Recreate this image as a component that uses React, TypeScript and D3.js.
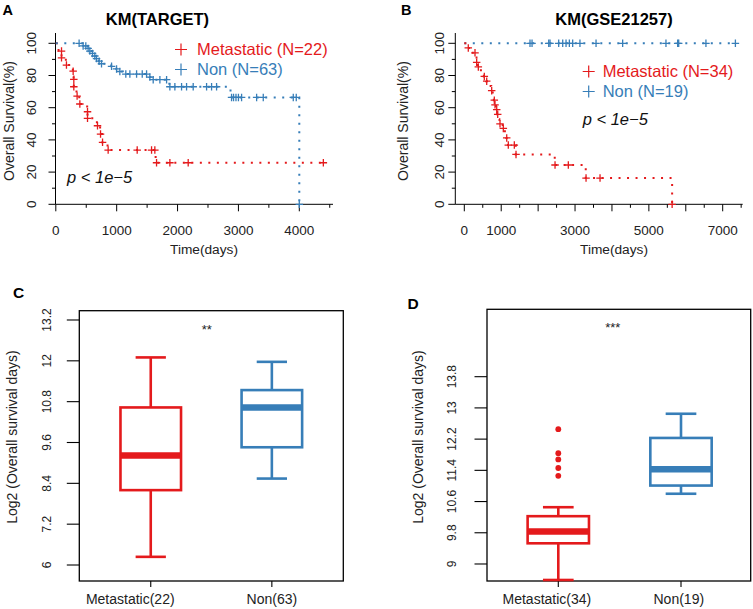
import React from "react";
import * as d3 from "d3";

const RED = "#E41A1C";
const BLUE = "#377EB8";
const FONT = "'Liberation Sans', Arial, Helvetica, sans-serif";

// ---------- Panel A: KM(TARGET) ----------
const kmA_metStepT = [0, 45, 94, 165, 280, 292, 296, 340, 385, 515, 521, 675, 728, 762, 850, 1640, 4395];
const kmA_metStepS = [100, 95.2, 91.0, 86.5, 82.7, 77.6, 73.0, 67.2, 62.3, 57.5, 53.4, 48.8, 43.6, 38.5, 33.7, 25.8, 25.8];
const kmA_metMarkT = [94, 94, 175, 285, 296, 296, 350, 395, 521, 521, 685, 735, 768, 860, 1337, 1573, 1627, 1655, 1874, 2175, 4395];
const kmA_metMarkS = [95.2, 91.0, 86.5, 82.7, 77.6, 73.0, 67.2, 62.3, 57.5, 53.4, 48.8, 43.6, 38.5, 33.7, 33.7, 33.7, 33.7, 25.8, 25.8, 25.8, 25.8];

const kmA_nonStepT = [0, 440, 525, 555, 600, 638, 665, 708, 748, 910, 995, 1048, 1100, 1540, 1595, 1865, 2870, 4000];
const kmA_nonStepS = [100, 98.4, 96.8, 95.2, 93.7, 92.1, 90.5, 88.9, 87.3, 85.7, 84.1, 82.5, 80.9, 79.0, 77.4, 73.0, 66.4, 0];
const kmA_nonMarkT = [383, 449, 493, 531, 559, 603, 641, 669, 712, 751, 916, 998, 1052, 1150, 1217, 1327, 1420, 1491, 1545, 1600, 1710, 1820, 1874, 1956, 2066, 2148, 2257, 2477, 2559, 2641, 2887, 2920, 2960, 3000, 3052, 3299, 3408, 3901, 3950, 4000];
const kmA_nonMarkS = [100, 98.4, 98.4, 96.8, 95.2, 93.7, 92.1, 90.5, 88.9, 87.3, 85.7, 84.1, 82.5, 80.9, 80.9, 80.9, 80.9, 80.9, 79.0, 77.4, 77.4, 77.4, 73.0, 73.0, 73.0, 73.0, 73.0, 73.0, 73.0, 73.0, 66.4, 66.4, 66.4, 66.4, 66.4, 66.4, 66.4, 66.4, 66.4, 0];

const kmA_xMajor = [0, 1000, 2000, 3000, 4000];
const kmA_xMinor = [500, 1500, 2500, 3500, 4500];
const kmA_xLabels = [0, 1000, 2000, 3000, 4000];

// ---------- Panel B: KM(GSE21257) ----------
const kmB_metStepT = [0, 60, 200, 300, 330, 360, 450, 530, 590, 650, 730, 770, 800, 820, 860, 890, 920, 950, 1040, 1100, 1140, 1185, 1395, 2450, 3290, 5630];
const kmB_metStepS = [100, 97.1, 94.1, 91.2, 88.2, 85.3, 82.4, 79.4, 76.5, 73.5, 70.6, 67.6, 64.7, 61.8, 58.8, 55.9, 52.9, 50.0, 47.1, 44.1, 41.2, 36.8, 31.0, 24.4, 16.3, 0];
const kmB_metMarkT = [108, 290, 335, 380, 542, 607, 742, 813, 832, 878, 905, 967, 1057, 1149, 1192, 1355, 1401, 2458, 2818, 3298, 3677, 5630];
const kmB_metMarkS = [97.1, 94.1, 88.2, 85.3, 79.4, 76.5, 70.6, 64.7, 61.8, 58.8, 55.9, 50.0, 47.1, 41.2, 36.8, 36.8, 31.0, 24.4, 24.4, 16.3, 16.3, 0];

const kmB_nonStepT = [0, 7344];
const kmB_nonStepS = [100, 100];
const kmB_nonMarkT = [1780, 1835, 2287, 2322, 2557, 2666, 2756, 2846, 2936, 3133, 3569, 4290, 5463, 5780, 5808, 6546, 7344];
const kmB_nonMarkS = [100, 100, 100, 100, 100, 100, 100, 100, 100, 100, 100, 100, 100, 100, 100, 100, 100];

const kmB_xMajor = [0, 1000, 2000, 3000, 4000, 5000, 6000, 7000];
const kmB_xMinor = [500, 1500, 2500, 3500, 4500, 5500, 6500, 7500];
const kmB_xLabels = [0, 1000, 3000, 5000, 7000];

const km_yMajor = [0, 20, 40, 60, 80, 100];
const km_yMinor = [10, 30, 50, 70, 90];

// ---------- Panel C: boxplot TARGET ----------
const boxC_cats = ["Metastatic(22)", "Non(63)"];
const boxC_low = [6.24, 8.54];
const boxC_q1 = [8.2, 9.46];
const boxC_med = [9.22, 10.63];
const boxC_q3 = [10.63, 11.14];
const boxC_high = [12.1, 11.97];
const boxC_out: number[][] = [[], []];
const boxC_yTicks = [6, 7.2, 8.4, 9.6, 10.8, 12, 13.2];

// ---------- Panel D: boxplot GSE21257 ----------
const boxD_cats = ["Metastatic(34)", "Non(19)"];
const boxD_low = [8.59, 10.8];
const boxD_q1 = [9.53, 11.01];
const boxD_med = [9.835, 11.43];
const boxD_q3 = [10.225, 12.23];
const boxD_high = [10.455, 12.85];
const boxD_out: number[][] = [[12.455, 11.84, 11.68, 11.46, 11.26], []];
const boxD_yTicks = [9, 9.8, 10.6, 11.4, 12.2, 13, 13.8];

const groupColors = [RED, BLUE];

function Cross({ x, y, size, color, sw }: any) {
  const h = size / 2;
  return (
    <path
      d={`M${x - h},${y}H${x + h}M${x},${y - h}V${y + h}`}
      stroke={color}
      strokeWidth={sw}
      fill="none"
    />
  );
}

function KMPanel(props: any) {
  const {
    xDomainMax, xRange, axisLeft, axisRight, xMajor, xMinor, xLabels,
    curves, title, titleX, letter, letterX, legendX, legendTextX, legendY,
    legendItems, pX, pY, xlabX, ylabX, ytickX,
  } = props;
  const x = d3.scaleLinear().domain([0, xDomainMax]).range(xRange);
  const y = d3.scaleLinear().domain([0, 100]).range([204.3, 43.3]);
  const line = d3
    .line<[number, number]>()
    .x((d) => x(d[0]))
    .y((d) => y(d[1]))
    .curve(d3.curveStepAfter);
  const yTop = 33;
  const yBot = y(0);
  return (
    <g fontFamily={FONT}>
      <text x={letterX} y={15} fontSize={14.5} fontWeight="bold">{letter}</text>
      <text x={titleX} y={25} fontSize={16.5} fontWeight="bold" textAnchor="middle">{title}</text>
      {/* axes */}
      <line x1={axisLeft} x2={axisLeft} y1={yTop} y2={yBot} stroke="#000" strokeWidth={1} />
      <line x1={axisLeft} x2={axisRight} y1={yBot} y2={yBot} stroke="#000" strokeWidth={1} />
      {km_yMajor.map((v) => (
        <g key={"ym" + v}>
          <line x1={axisLeft - 7} x2={axisLeft} y1={y(v)} y2={y(v)} stroke="#000" />
          <text
            transform={`translate(${ytickX},${y(v)}) rotate(-90)`}
            dy="0.35em"
            textAnchor="middle"
            fontSize={13.5}
            fill="#222"
          >
            {v}
          </text>
        </g>
      ))}
      {km_yMinor.map((v) => (
        <line key={"yn" + v} x1={axisLeft - 3.5} x2={axisLeft} y1={y(v)} y2={y(v)} stroke="#000" />
      ))}
      {xMajor.map((v: number) => (
        <line key={"xm" + v} x1={x(v)} x2={x(v)} y1={yBot} y2={yBot + 7} stroke="#000" />
      ))}
      {xMinor.map((v: number) => (
        <line key={"xn" + v} x1={x(v)} x2={x(v)} y1={yBot} y2={yBot + 3.5} stroke="#000" />
      ))}
      {xLabels.map((v: number) => (
        <text key={"xl" + v} x={x(v)} y={235} textAnchor="middle" fontSize={13.5} fill="#222">
          {v}
        </text>
      ))}
      <text x={xlabX} y={253.5} textAnchor="middle" fontSize={13.7} fill="#222">Time(days)</text>
      <text
        transform={`translate(${ylabX},121) rotate(-90)`}
        dy="0.35em"
        textAnchor="middle"
        fontSize={14}
        fill="#222"
      >
        Overall Survival(%)
      </text>
      {/* curves */}
      {curves.map((c: any, i: number) => {
        const pts: [number, number][] = c.t.map((t: number, k: number) => [t, c.s[k]]);
        return (
          <g key={"c" + i}>
            <path
              d={line(pts) || ""}
              fill="none"
              stroke={c.color}
              strokeWidth={2}
              strokeDasharray="2 6.5"
            />
            {c.mt.map((t: number, k: number) => (
              <Cross key={k} x={x(t)} y={y(c.ms[k])} size={7.5} color={c.color} sw={1.3} />
            ))}
          </g>
        );
      })}
      {/* legend */}
      {legendItems.map((it: any, i: number) => (
        <g key={"lg" + i}>
          <Cross x={legendX} y={legendY + i * 20 - 5.5} size={12} color={it.color} sw={1.2} />
          <text x={legendTextX} y={legendY + i * 20} fontSize={16.5} fill={it.color}>
            {it.label}
          </text>
        </g>
      ))}
      <text x={pX} y={pY} fontSize={16.5} fontStyle="italic" fill="#111">
        p &lt; 1e−5
      </text>
    </g>
  );
}

function BoxPanel(props: any) {
  const {
    cats, low, q1, med, q3, high, out, yTicks, yDomain, frame, xDomain,
    letter, letterPos, star, starPos, ytickX, ylabX, labelOffsets,
  } = props;
  const [fl, fr, ft, fb] = frame;
  const x = d3.scaleLinear().domain(xDomain).range([fl, fr]);
  const y = d3.scaleLinear().domain(yDomain).range([fb, ft]);
  const fmt = (v: number) => String(v);
  return (
    <g fontFamily={FONT}>
      <text x={letterPos[0]} y={letterPos[1]} fontSize={15.5} fontWeight="bold">{letter}</text>
      <rect x={fl} y={ft} width={fr - fl} height={fb - ft} fill="none" stroke="#000" strokeWidth={1.3} />
      {yTicks.map((v: number) => (
        <g key={"t" + v}>
          <line x1={fl - 12.5} x2={fl} y1={y(v)} y2={y(v)} stroke="#000" strokeWidth={1.1} />
          <text
            transform={`translate(${ytickX},${y(v)}) rotate(-90)`}
            dy="0.35em"
            textAnchor="middle"
            fontSize={12}
            fill="#222"
          >
            {fmt(v)}
          </text>
        </g>
      ))}
      <text
        transform={`translate(${ylabX},437) rotate(-90)`}
        dy="0.35em"
        textAnchor="middle"
        fontSize={14}
        fill="#222"
      >
        Log2 (Overall survival days)
      </text>
      <text x={starPos[0]} y={starPos[1]} textAnchor="middle" fontSize={13} fill="#222">{star}</text>
      {cats.map((c: string, i: number) => {
        const cx = x(i + 1);
        const bw = x(1.25) - x(1);
        const cw = x(1.125) - x(1);
        const col = groupColors[i];
        return (
          <g key={c}>
            <line x1={cx} x2={cx} y1={fb} y2={fb + 6} stroke="#000" strokeWidth={1.1} />
            <text x={cx + labelOffsets[i]} y={604} textAnchor="middle" fontSize={14} fill="#222">
              {c}
            </text>
            <line x1={cx} x2={cx} y1={y(high[i])} y2={y(q3[i])} stroke={col} strokeWidth={2.6} />
            <line x1={cx} x2={cx} y1={y(q1[i])} y2={y(low[i])} stroke={col} strokeWidth={2.6} />
            <line x1={cx - cw} x2={cx + cw} y1={y(high[i])} y2={y(high[i])} stroke={col} strokeWidth={2.6} />
            <line x1={cx - cw} x2={cx + cw} y1={y(low[i])} y2={y(low[i])} stroke={col} strokeWidth={2.6} />
            <rect
              x={cx - bw}
              y={y(q3[i])}
              width={2 * bw}
              height={y(q1[i]) - y(q3[i])}
              fill="#fff"
              stroke={col}
              strokeWidth={2.6}
            />
            <line x1={cx - bw} x2={cx + bw} y1={y(med[i])} y2={y(med[i])} stroke={col} strokeWidth={6.5} />
            {out[i].map((v: number, k: number) => (
              <circle key={k} cx={cx} cy={y(v)} r={2.9} fill={col} />
            ))}
          </g>
        );
      })}
    </g>
  );
}

export default function App() {
  return (
    <svg
      width={753}
      height={609}
      style={{ position: "absolute", left: 0, top: 0, background: "#fff" }}
    >
      <rect x={0} y={0} width={753} height={609} fill="#fff" />
      <KMPanel
        xDomainMax={4000}
        xRange={[55.8, 299.3]}
        axisLeft={55.5}
        axisRight={333}
        xMajor={kmA_xMajor}
        xMinor={kmA_xMinor}
        xLabels={kmA_xLabels}
        curves={[
          { t: kmA_metStepT, s: kmA_metStepS, mt: kmA_metMarkT, ms: kmA_metMarkS, color: RED },
          { t: kmA_nonStepT, s: kmA_nonStepS, mt: kmA_nonMarkT, ms: kmA_nonMarkS, color: BLUE },
        ]}
        title="KM(TARGET)"
        titleX={157.5}
        letter="A"
        letterX={2.5}
        legendX={181}
        legendTextX={197}
        legendY={55}
        legendItems={[
          { label: "Metastatic (N=22)", color: RED },
          { label: "Non (N=63)", color: BLUE },
        ]}
        pX={67}
        pY={183}
        xlabX={204}
        ylabX={9.3}
        ytickX={31.7}
      />
      <KMPanel
        xDomainMax={7000}
        xRange={[464.3, 722.7]}
        axisLeft={455.3}
        axisRight={742.7}
        xMajor={kmB_xMajor}
        xMinor={kmB_xMinor}
        xLabels={kmB_xLabels}
        curves={[
          { t: kmB_nonStepT, s: kmB_nonStepS, mt: kmB_nonMarkT, ms: kmB_nonMarkS, color: BLUE },
          { t: kmB_metStepT, s: kmB_metStepS, mt: kmB_metMarkT, ms: kmB_metMarkS, color: RED },
        ]}
        title="KM(GSE21257)"
        titleX={614}
        letter="B"
        letterX={401}
        legendX={588.7}
        legendTextX={602.7}
        legendY={77}
        legendItems={[
          { label: "Metastatic (N=34)", color: RED },
          { label: "Non (N=19)", color: BLUE },
        ]}
        pX={582.7}
        pY={125}
        xlabX={614}
        ylabX={402.7}
        ytickX={439.3}
      />
      <BoxPanel
        cats={boxC_cats}
        low={boxC_low}
        q1={boxC_q1}
        med={boxC_med}
        q3={boxC_q3}
        high={boxC_high}
        out={boxC_out}
        yTicks={boxC_yTicks}
        yDomain={[5.53, 13.473]}
        frame={[79.3, 343.3, 310.7, 581]}
        xDomain={[0.41, 2.59]}
        letter="C"
        letterPos={[13, 298.3]}
        star="**"
        starPos={[206.8, 334]}
        ytickX={46.5}
        ylabX={11.7}
        labelOffsets={[-20.5, 0]}
      />
      <BoxPanel
        cats={boxD_cats}
        low={boxD_low}
        q1={boxD_q1}
        med={boxD_med}
        q3={boxD_q3}
        high={boxD_high}
        out={boxD_out}
        yTicks={boxD_yTicks}
        yDomain={[8.564, 15.527]}
        frame={[487, 750.7, 309.3, 581]}
        xDomain={[0.419, 2.568]}
        letter="D"
        letterPos={[407.5, 309.3]}
        star="***"
        starPos={[612.8, 332]}
        ytickX={452}
        ylabX={418}
        labelOffsets={[-11.4, -2.2]}
      />
    </svg>
  );
}
